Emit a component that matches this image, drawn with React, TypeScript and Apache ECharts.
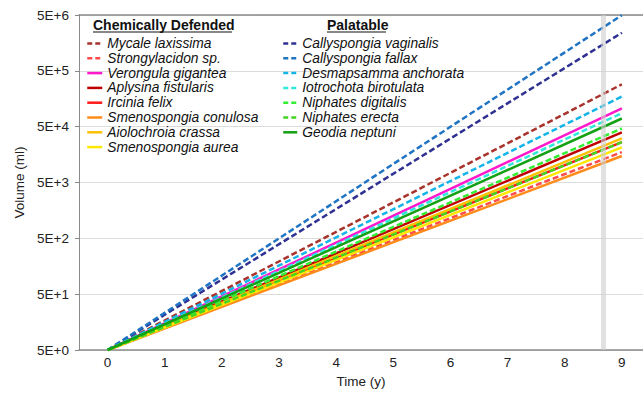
import React, { useEffect, useRef } from "react";
import * as echarts from "echarts";

// Time points (years) at which each growth curve is read
const years = [0, 9];

// Volume (ml) at t = 0 and t = 9 years
const mycaleLaxissima = [5, 2.87e5];
const strongylacidonSp = [5, 1.75e4];
const verongulaGigantea = [5, 1.06e5];
const aplysinaFistularis = [5, 3.94e4];
const irciniaFelix = [5, 2.64e4];
const smenospongiaConulosa = [5, 1.49e4];
const aiolochroiaCrassa = [5, 3.08e4];
const smenospongiaAurea = [5, 2.13e4];

const callyspongiaVaginalis = [5, 2.4e6];
const callyspongiaFallax = [5, 4.96e6];
const desmapsammaAnchorata = [5, 1.73e5];
const iotrochotaBirotulata = [5, 8.71e4];
const niphatesDigitalis = [5, 4.64e4];
const niphatesErecta = [5, 2.64e4];
const geodiaNeptuni = [5, 7.0e4];

const xTickLabels = [0, 1, 2, 3, 4, 5, 6, 7, 8, 9];
const yTickValues = [5, 50, 500, 5000, 50000, 500000, 5000000];
const highlightYear = 8.67;

const FONT = "'Liberation Sans', Arial, sans-serif";
const DASH = [6, 3];

type Spec = { name: string; values: number[]; color: string; dashed: boolean };

const defended: Spec[] = [
  { name: "Mycale laxissima", values: mycaleLaxissima, color: "#a8332c", dashed: true },
  { name: "Strongylacidon sp.", values: strongylacidonSp, color: "#ff4b4b", dashed: true },
  { name: "Verongula gigantea", values: verongulaGigantea, color: "#ff19cc", dashed: false },
  { name: "Aplysina fistularis", values: aplysinaFistularis, color: "#c00000", dashed: false },
  { name: "Ircinia felix", values: irciniaFelix, color: "#ff1a1a", dashed: false },
  { name: "Smenospongia conulosa", values: smenospongiaConulosa, color: "#ff8c1a", dashed: false },
  { name: "Aiolochroia crassa", values: aiolochroiaCrassa, color: "#ffc000", dashed: false },
  { name: "Smenospongia aurea", values: smenospongiaAurea, color: "#ffe800", dashed: false },
];

const palatable: Spec[] = [
  { name: "Callyspongia vaginalis", values: callyspongiaVaginalis, color: "#2e3192", dashed: true },
  { name: "Callyspongia fallax", values: callyspongiaFallax, color: "#1f74c4", dashed: true },
  { name: "Desmapsamma anchorata", values: desmapsammaAnchorata, color: "#14b4e8", dashed: true },
  { name: "Iotrochota birotulata", values: iotrochotaBirotulata, color: "#2ee8dc", dashed: true },
  { name: "Niphates digitalis", values: niphatesDigitalis, color: "#33ee33", dashed: true },
  { name: "Niphates erecta", values: niphatesErecta, color: "#44d422", dashed: true },
  { name: "Geodia neptuni", values: geodiaNeptuni, color: "#14a014", dashed: false },
];

export default function App() {
  const ref = useRef<HTMLDivElement>(null);

  useEffect(() => {
    document.body.style.margin = "0";
    if (!ref.current) return;
    const chart = echarts.init(ref.current, undefined, { renderer: "svg" });

    const all = [...defended, ...palatable];
    const series: any[] = all.map((s, i) => ({
      name: s.name,
      type: "line",
      xAxisIndex: 0,
      symbol: "none",
      showSymbol: false,
      data: years.map((t, k) => [t, s.values[k]]),
      lineStyle: { color: s.color, width: 2.5, type: s.dashed ? DASH : "solid" },
      itemStyle: { color: s.color },
      z: 2 + i * 0.01,
      ...(i === all.length - 1
        ? {
            markLine: {
              silent: true,
              symbol: "none",
              label: { show: false },
              lineStyle: { color: "rgba(205,205,205,0.6)", width: 5, type: "solid" },
              data: [{ xAxis: highlightYear }],
              z: 10,
            },
          }
        : {}),
    }));

    const legendItems = (list: Spec[]) =>
      list.map((s) => ({
        name: s.name,
        itemStyle: { opacity: 0 },
        lineStyle: { color: s.color, width: 2.5, type: s.dashed ? [5, 3] : "solid" },
      }));

    const legendCommon = {
      orient: "vertical",
      padding: 0,
      itemWidth: 15,
      itemHeight: 10,
      itemGap: 0.8,
      itemTextGap: 1,
      selectedMode: false,
      itemStyle: { opacity: 0 },
      textStyle: {
        fontFamily: FONT,
        fontSize: 13.8,
        fontStyle: "italic",
        color: "#111",
        lineHeight: 13.4,
      },
    };

    chart.setOption({
      animation: false,
      backgroundColor: "#fff",
      grid: { left: 79, right: 0, top: 15, bottom: 41, containLabel: false },
      legend: [
        { ...legendCommon, left: 86, top: 36.5, data: legendItems(defended) },
        { ...legendCommon, left: 282, top: 36.5, itemWidth: 14, data: legendItems(palatable) },
      ],
      xAxis: [
        {
          type: "value",
          min: -0.5,
          max: 9.37,
          interval: 0.5,
          name: "Time (y)",
          nameLocation: "middle",
          nameGap: 24,
          nameTextStyle: { fontFamily: FONT, fontSize: 13.5, color: "#222" },
          axisLine: { show: true, onZero: false, lineStyle: { color: "#8a8a8a", width: 1.5 } },
          axisTick: { show: false },
          splitLine: { show: false },
          axisLabel: {
            fontFamily: FONT,
            fontSize: 13.5,
            color: "#222",
            margin: 5,
            showMaxLabel: false,
            formatter: (v: number) => (xTickLabels.includes(v) ? String(v) : ""),
          },
        },
        {
          type: "value",
          position: "top",
          min: -0.5,
          max: 9.37,
          axisLine: { show: true, onZero: false, lineStyle: { color: "#8a8a8a", width: 1.5 } },
          axisTick: { show: false },
          axisLabel: { show: false },
          splitLine: { show: false },
        },
      ],
      yAxis: {
        type: "log",
        logBase: 10,
        min: 5,
        max: 5e6,
        name: "Volume (ml)",
        nameLocation: "middle",
        nameGap: 52,
        nameTextStyle: { fontFamily: FONT, fontSize: 13.5, color: "#222" },
        axisLine: { show: true, onZero: false, lineStyle: { color: "#8a8a8a", width: 1 } },
        axisTick: {
          show: true,
          length: 4,
          customValues: yTickValues,
          lineStyle: { color: "#8a8a8a" },
        },
        splitLine: { show: true, lineStyle: { color: "#dcdcdc", width: 1 } },
        axisLabel: {
          fontFamily: FONT,
          fontSize: 13.5,
          color: "#222",
          margin: 10,
          customValues: yTickValues,
          formatter: (v: number) => "5E+" + Math.round(Math.log10(v / 5)),
        },
      },
      graphic: [
        {
          type: "text",
          left: 93,
          top: 18,
          style: { text: "Chemically Defended", font: `bold 14px ${FONT}`, fill: "#111" },
        },
        {
          type: "line",
          shape: { x1: 93, y1: 32, x2: 232, y2: 32 },
          style: { stroke: "#111", lineWidth: 1 },
        },
        {
          type: "text",
          left: 327,
          top: 18,
          style: { text: "Palatable", font: `bold 14px ${FONT}`, fill: "#111" },
        },
        {
          type: "line",
          shape: { x1: 327, y1: 32, x2: 386, y2: 32 },
          style: { stroke: "#111", lineWidth: 1 },
        },
      ],
      series,
    });

    return () => chart.dispose();
  }, []);

  return <div ref={ref} style={{ width: 643, height: 393 }} />;
}
